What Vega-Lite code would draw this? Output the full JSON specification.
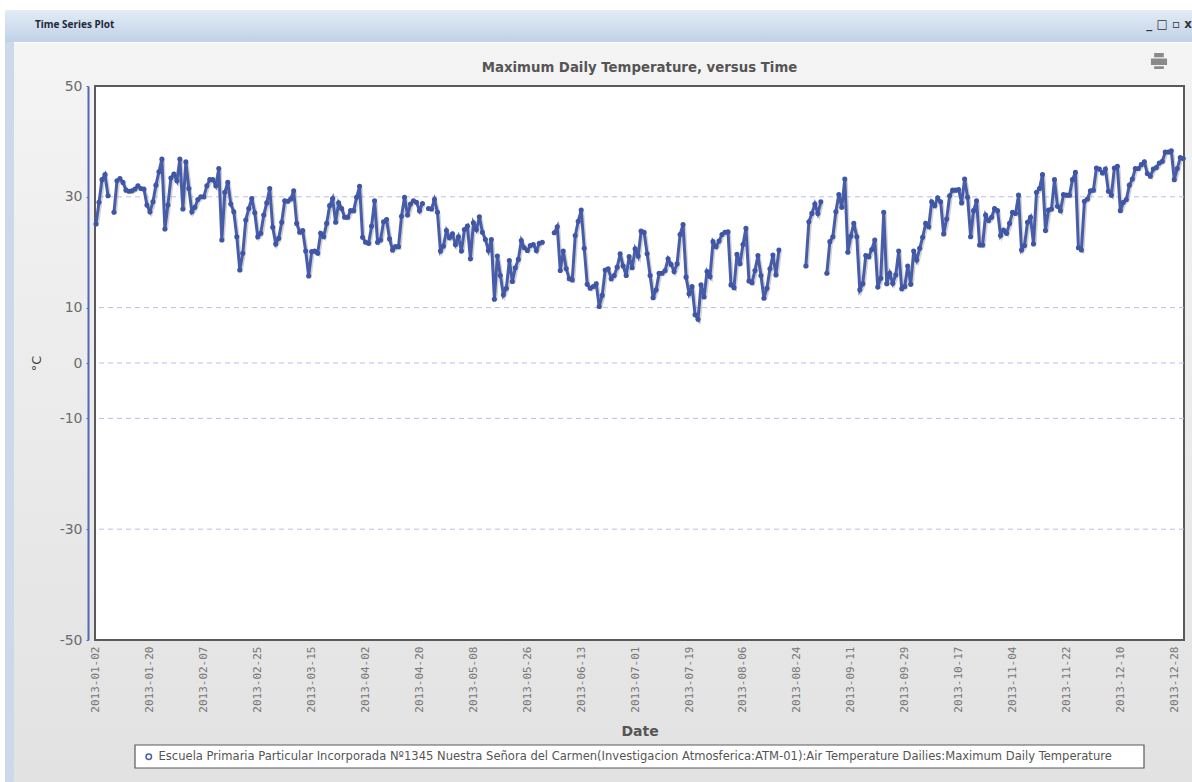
{"$schema":"https://vega.github.io/schema/vega-lite/v6.json","width":1089,"height":554,"autosize":{"type":"none"},"padding":{"left":95,"top":86,"right":8,"bottom":142},"background":"#ffffff","view":{"stroke":null,"fill":null},
"title":{"text":"Maximum Daily Temperature, versus Time","anchor":"middle","frame":"group","font":"DejaVu Sans","fontSize":13.3,"fontWeight":"bold","color":"#555555","offset":13,"dy":77,"zindex":1},
"datasets":{"deco":[{"label":"Time Series Plot"}],"grid":[{"level":30},{"level":10},{"level":0},{"level":-10},{"level":-30}],
"temps":[
{"date":"2013-01-02","tmax":25.1},{"date":"2013-01-03","tmax":29.0},{"date":"2013-01-04","tmax":33.1},{"date":"2013-01-05","tmax":34.0},{"date":"2013-01-06","tmax":30.2},{"date":"2013-01-07","tmax":null},{"date":"2013-01-08","tmax":27.2},{"date":"2013-01-09","tmax":32.9},{"date":"2013-01-10","tmax":33.3},{"date":"2013-01-11","tmax":32.6},{"date":"2013-01-12","tmax":31.2},{"date":"2013-01-13","tmax":31.0},{"date":"2013-01-14","tmax":31.1},{"date":"2013-01-15","tmax":31.4},{"date":"2013-01-16","tmax":32.0},{"date":"2013-01-17","tmax":31.5},{"date":"2013-01-18","tmax":31.4},{"date":"2013-01-19","tmax":28.5},{"date":"2013-01-20","tmax":27.3},{"date":"2013-01-21","tmax":29.1},{"date":"2013-01-22","tmax":32.1},{"date":"2013-01-23","tmax":34.5},{"date":"2013-01-24","tmax":36.8},{"date":"2013-01-25","tmax":24.2},{"date":"2013-01-26","tmax":28.5},{"date":"2013-01-27","tmax":33.4},{"date":"2013-01-28","tmax":34.1},{"date":"2013-01-29","tmax":32.9},{"date":"2013-01-30","tmax":36.8},{"date":"2013-01-31","tmax":27.8},
{"date":"2013-02-01","tmax":36.3},{"date":"2013-02-02","tmax":31.5},{"date":"2013-02-03","tmax":27.3},{"date":"2013-02-04","tmax":28.1},{"date":"2013-02-05","tmax":29.5},{"date":"2013-02-06","tmax":30.0},{"date":"2013-02-07","tmax":30.0},{"date":"2013-02-08","tmax":32.0},{"date":"2013-02-09","tmax":33.1},{"date":"2013-02-10","tmax":33.1},{"date":"2013-02-11","tmax":32.0},{"date":"2013-02-12","tmax":35.1},{"date":"2013-02-13","tmax":22.2},{"date":"2013-02-14","tmax":30.8},{"date":"2013-02-15","tmax":32.6},{"date":"2013-02-16","tmax":28.7},{"date":"2013-02-17","tmax":27.3},{"date":"2013-02-18","tmax":22.8},{"date":"2013-02-19","tmax":16.8},{"date":"2013-02-20","tmax":19.8},{"date":"2013-02-21","tmax":25.8},{"date":"2013-02-22","tmax":27.9},{"date":"2013-02-23","tmax":29.7},{"date":"2013-02-24","tmax":27.1},{"date":"2013-02-25","tmax":22.8},{"date":"2013-02-26","tmax":23.4},{"date":"2013-02-27","tmax":26.7},{"date":"2013-02-28","tmax":28.9},
{"date":"2013-03-01","tmax":31.5},{"date":"2013-03-02","tmax":24.5},{"date":"2013-03-03","tmax":21.5},{"date":"2013-03-04","tmax":22.5},{"date":"2013-03-05","tmax":25.4},{"date":"2013-03-06","tmax":29.3},{"date":"2013-03-07","tmax":29.2},{"date":"2013-03-08","tmax":29.6},{"date":"2013-03-09","tmax":31.1},{"date":"2013-03-10","tmax":25.2},{"date":"2013-03-11","tmax":23.6},{"date":"2013-03-12","tmax":23.9},{"date":"2013-03-13","tmax":20.2},{"date":"2013-03-14","tmax":15.7},{"date":"2013-03-15","tmax":20.1},{"date":"2013-03-16","tmax":20.2},{"date":"2013-03-17","tmax":19.8},{"date":"2013-03-18","tmax":23.4},{"date":"2013-03-19","tmax":22.8},{"date":"2013-03-20","tmax":25.2},{"date":"2013-03-21","tmax":28.4},{"date":"2013-03-22","tmax":29.7},{"date":"2013-03-23","tmax":25.4},{"date":"2013-03-24","tmax":28.9},{"date":"2013-03-25","tmax":27.9},{"date":"2013-03-26","tmax":26.3},{"date":"2013-03-27","tmax":26.3},{"date":"2013-03-28","tmax":27.5},{"date":"2013-03-29","tmax":27.5},{"date":"2013-03-30","tmax":29.9},{"date":"2013-03-31","tmax":31.9},
{"date":"2013-04-01","tmax":22.7},{"date":"2013-04-02","tmax":21.8},{"date":"2013-04-03","tmax":21.6},{"date":"2013-04-04","tmax":24.7},{"date":"2013-04-05","tmax":29.3},{"date":"2013-04-06","tmax":21.8},{"date":"2013-04-07","tmax":22.2},{"date":"2013-04-08","tmax":25.5},{"date":"2013-04-09","tmax":25.9},{"date":"2013-04-10","tmax":22.4},{"date":"2013-04-11","tmax":20.4},{"date":"2013-04-12","tmax":21.0},{"date":"2013-04-13","tmax":21.0},{"date":"2013-04-14","tmax":26.5},{"date":"2013-04-15","tmax":29.9},{"date":"2013-04-16","tmax":26.7},{"date":"2013-04-17","tmax":28.7},{"date":"2013-04-18","tmax":29.3},{"date":"2013-04-19","tmax":29.0},{"date":"2013-04-20","tmax":27.5},{"date":"2013-04-21","tmax":28.8},{"date":"2013-04-22","tmax":null},{"date":"2013-04-23","tmax":27.9},{"date":"2013-04-24","tmax":27.8},{"date":"2013-04-25","tmax":29.5},{"date":"2013-04-26","tmax":27.2},{"date":"2013-04-27","tmax":20.2},{"date":"2013-04-28","tmax":21.1},{"date":"2013-04-29","tmax":23.9},{"date":"2013-04-30","tmax":22.6},
{"date":"2013-05-01","tmax":23.3},{"date":"2013-05-02","tmax":21.4},{"date":"2013-05-03","tmax":22.8},{"date":"2013-05-04","tmax":20.2},{"date":"2013-05-05","tmax":24.1},{"date":"2013-05-06","tmax":24.7},{"date":"2013-05-07","tmax":18.8},{"date":"2013-05-08","tmax":25.3},{"date":"2013-05-09","tmax":24.1},{"date":"2013-05-10","tmax":26.4},{"date":"2013-05-11","tmax":23.6},{"date":"2013-05-12","tmax":22.3},{"date":"2013-05-13","tmax":20.3},{"date":"2013-05-14","tmax":22.3},{"date":"2013-05-15","tmax":11.5},{"date":"2013-05-16","tmax":19.3},{"date":"2013-05-17","tmax":15.8},{"date":"2013-05-18","tmax":12.3},{"date":"2013-05-19","tmax":13.5},{"date":"2013-05-20","tmax":18.5},{"date":"2013-05-21","tmax":14.7},{"date":"2013-05-22","tmax":17.2},{"date":"2013-05-23","tmax":18.7},{"date":"2013-05-24","tmax":22.1},{"date":"2013-05-25","tmax":20.8},{"date":"2013-05-26","tmax":20.3},{"date":"2013-05-27","tmax":21.2},{"date":"2013-05-28","tmax":21.4},{"date":"2013-05-29","tmax":20.3},{"date":"2013-05-30","tmax":21.6},{"date":"2013-05-31","tmax":21.8},
{"date":"2013-06-01","tmax":null},{"date":"2013-06-04","tmax":23.5},{"date":"2013-06-05","tmax":24.6},{"date":"2013-06-06","tmax":16.7},{"date":"2013-06-07","tmax":20.2},{"date":"2013-06-08","tmax":17.0},{"date":"2013-06-09","tmax":15.2},{"date":"2013-06-10","tmax":15.0},{"date":"2013-06-11","tmax":23.0},{"date":"2013-06-12","tmax":25.6},{"date":"2013-06-13","tmax":27.6},{"date":"2013-06-14","tmax":20.7},{"date":"2013-06-15","tmax":14.2},{"date":"2013-06-16","tmax":13.5},{"date":"2013-06-17","tmax":13.8},{"date":"2013-06-18","tmax":14.3},{"date":"2013-06-19","tmax":10.2},{"date":"2013-06-20","tmax":12.2},{"date":"2013-06-21","tmax":16.8},{"date":"2013-06-22","tmax":17.0},{"date":"2013-06-23","tmax":15.2},{"date":"2013-06-24","tmax":15.8},{"date":"2013-06-25","tmax":17.3},{"date":"2013-06-26","tmax":19.7},{"date":"2013-06-27","tmax":17.5},{"date":"2013-06-28","tmax":15.8},{"date":"2013-06-29","tmax":19.2},{"date":"2013-06-30","tmax":17.2},
{"date":"2013-07-01","tmax":20.6},{"date":"2013-07-02","tmax":19.3},{"date":"2013-07-03","tmax":23.8},{"date":"2013-07-04","tmax":23.6},{"date":"2013-07-05","tmax":19.7},{"date":"2013-07-06","tmax":15.8},{"date":"2013-07-07","tmax":11.8},{"date":"2013-07-08","tmax":13.2},{"date":"2013-07-09","tmax":16.2},{"date":"2013-07-10","tmax":16.2},{"date":"2013-07-11","tmax":16.7},{"date":"2013-07-12","tmax":18.8},{"date":"2013-07-13","tmax":17.8},{"date":"2013-07-14","tmax":16.5},{"date":"2013-07-15","tmax":17.9},{"date":"2013-07-16","tmax":23.2},{"date":"2013-07-17","tmax":25.0},{"date":"2013-07-18","tmax":15.5},{"date":"2013-07-19","tmax":12.5},{"date":"2013-07-20","tmax":13.8},{"date":"2013-07-21","tmax":8.7},{"date":"2013-07-22","tmax":7.9},{"date":"2013-07-23","tmax":14.1},{"date":"2013-07-24","tmax":11.9},{"date":"2013-07-25","tmax":16.5},{"date":"2013-07-26","tmax":15.6},{"date":"2013-07-27","tmax":21.9},{"date":"2013-07-28","tmax":21.0},{"date":"2013-07-29","tmax":22.0},{"date":"2013-07-30","tmax":23.2},{"date":"2013-07-31","tmax":23.6},
{"date":"2013-08-01","tmax":23.7},{"date":"2013-08-02","tmax":14.1},{"date":"2013-08-03","tmax":13.6},{"date":"2013-08-04","tmax":19.6},{"date":"2013-08-05","tmax":17.9},{"date":"2013-08-06","tmax":21.4},{"date":"2013-08-07","tmax":24.3},{"date":"2013-08-08","tmax":14.8},{"date":"2013-08-09","tmax":14.5},{"date":"2013-08-10","tmax":16.7},{"date":"2013-08-11","tmax":19.4},{"date":"2013-08-12","tmax":15.8},{"date":"2013-08-13","tmax":11.7},{"date":"2013-08-14","tmax":13.5},{"date":"2013-08-15","tmax":17.0},{"date":"2013-08-16","tmax":19.5},{"date":"2013-08-17","tmax":15.9},{"date":"2013-08-18","tmax":20.4},{"date":"2013-08-19","tmax":null},{"date":"2013-08-27","tmax":17.5},{"date":"2013-08-28","tmax":25.5},{"date":"2013-08-29","tmax":27.0},{"date":"2013-08-30","tmax":28.7},{"date":"2013-08-31","tmax":27.0},
{"date":"2013-09-01","tmax":29.1},{"date":"2013-09-02","tmax":null},{"date":"2013-09-03","tmax":16.2},{"date":"2013-09-04","tmax":21.9},{"date":"2013-09-05","tmax":22.8},{"date":"2013-09-06","tmax":27.3},{"date":"2013-09-07","tmax":30.4},{"date":"2013-09-08","tmax":28.1},{"date":"2013-09-09","tmax":33.2},{"date":"2013-09-10","tmax":20.0},{"date":"2013-09-11","tmax":22.9},{"date":"2013-09-12","tmax":25.2},{"date":"2013-09-13","tmax":22.8},{"date":"2013-09-14","tmax":13.2},{"date":"2013-09-15","tmax":14.3},{"date":"2013-09-16","tmax":19.4},{"date":"2013-09-17","tmax":19.2},{"date":"2013-09-18","tmax":20.5},{"date":"2013-09-19","tmax":22.2},{"date":"2013-09-20","tmax":13.7},{"date":"2013-09-21","tmax":15.3},{"date":"2013-09-22","tmax":27.2},{"date":"2013-09-23","tmax":14.3},{"date":"2013-09-24","tmax":16.2},{"date":"2013-09-25","tmax":14.4},{"date":"2013-09-26","tmax":15.9},{"date":"2013-09-27","tmax":20.2},{"date":"2013-09-28","tmax":13.4},{"date":"2013-09-29","tmax":13.8},{"date":"2013-09-30","tmax":17.5},
{"date":"2013-10-01","tmax":14.2},{"date":"2013-10-02","tmax":20.2},{"date":"2013-10-03","tmax":18.6},{"date":"2013-10-04","tmax":20.7},{"date":"2013-10-05","tmax":22.7},{"date":"2013-10-06","tmax":25.2},{"date":"2013-10-07","tmax":24.6},{"date":"2013-10-08","tmax":29.1},{"date":"2013-10-09","tmax":28.4},{"date":"2013-10-10","tmax":29.8},{"date":"2013-10-11","tmax":29.1},{"date":"2013-10-12","tmax":23.3},{"date":"2013-10-13","tmax":26.0},{"date":"2013-10-14","tmax":30.2},{"date":"2013-10-15","tmax":31.2},{"date":"2013-10-16","tmax":31.2},{"date":"2013-10-17","tmax":31.3},{"date":"2013-10-18","tmax":28.9},{"date":"2013-10-19","tmax":33.2},{"date":"2013-10-20","tmax":29.9},{"date":"2013-10-21","tmax":22.8},{"date":"2013-10-22","tmax":27.5},{"date":"2013-10-23","tmax":29.3},{"date":"2013-10-24","tmax":21.3},{"date":"2013-10-25","tmax":21.3},{"date":"2013-10-26","tmax":26.7},{"date":"2013-10-27","tmax":25.7},{"date":"2013-10-28","tmax":26.3},{"date":"2013-10-29","tmax":27.9},{"date":"2013-10-30","tmax":27.5},{"date":"2013-10-31","tmax":23.0},
{"date":"2013-11-01","tmax":24.0},{"date":"2013-11-02","tmax":23.4},{"date":"2013-11-03","tmax":25.2},{"date":"2013-11-04","tmax":27.2},{"date":"2013-11-05","tmax":27.0},{"date":"2013-11-06","tmax":30.3},{"date":"2013-11-07","tmax":20.4},{"date":"2013-11-08","tmax":21.2},{"date":"2013-11-09","tmax":25.4},{"date":"2013-11-10","tmax":26.3},{"date":"2013-11-11","tmax":21.5},{"date":"2013-11-12","tmax":30.8},{"date":"2013-11-13","tmax":31.5},{"date":"2013-11-14","tmax":34.0},{"date":"2013-11-15","tmax":23.9},{"date":"2013-11-16","tmax":27.6},{"date":"2013-11-17","tmax":27.8},{"date":"2013-11-18","tmax":33.1},{"date":"2013-11-19","tmax":28.3},{"date":"2013-11-20","tmax":27.5},{"date":"2013-11-21","tmax":30.4},{"date":"2013-11-22","tmax":30.3},{"date":"2013-11-23","tmax":30.3},{"date":"2013-11-24","tmax":33.1},{"date":"2013-11-25","tmax":34.4},{"date":"2013-11-26","tmax":20.8},{"date":"2013-11-27","tmax":20.4},{"date":"2013-11-28","tmax":29.2},{"date":"2013-11-29","tmax":29.6},{"date":"2013-11-30","tmax":31.1},
{"date":"2013-12-01","tmax":31.2},{"date":"2013-12-02","tmax":35.2},{"date":"2013-12-03","tmax":35.0},{"date":"2013-12-04","tmax":34.3},{"date":"2013-12-05","tmax":35.0},{"date":"2013-12-06","tmax":31.0},{"date":"2013-12-07","tmax":30.3},{"date":"2013-12-08","tmax":35.2},{"date":"2013-12-09","tmax":35.5},{"date":"2013-12-10","tmax":27.5},{"date":"2013-12-11","tmax":29.0},{"date":"2013-12-12","tmax":29.5},{"date":"2013-12-13","tmax":32.1},{"date":"2013-12-14","tmax":33.2},{"date":"2013-12-15","tmax":35.1},{"date":"2013-12-16","tmax":35.1},{"date":"2013-12-17","tmax":35.8},{"date":"2013-12-18","tmax":36.3},{"date":"2013-12-19","tmax":34.2},{"date":"2013-12-20","tmax":33.7},{"date":"2013-12-21","tmax":35.0},{"date":"2013-12-22","tmax":35.3},{"date":"2013-12-23","tmax":36.1},{"date":"2013-12-24","tmax":36.4},{"date":"2013-12-25","tmax":38.1},{"date":"2013-12-26","tmax":38.1},{"date":"2013-12-27","tmax":38.3},{"date":"2013-12-28","tmax":33.1},{"date":"2013-12-29","tmax":35.1},{"date":"2013-12-30","tmax":37.1},{"date":"2013-12-31","tmax":36.9}
]},
"layer":[
{"data":{"name":"deco"},"mark":{"type":"rect","fill":{"gradient":"linear","x1":0,"y1":0,"x2":0,"y2":1,"stops":[{"offset":0,"color":"#f4f4f4"},{"offset":1,"color":"#e2e2e2"}]}},"encoding":{"x":{"value":-81},"x2":{"value":1097},"y":{"value":-43},"y2":{"value":696}}},
{"data":{"name":"deco"},"mark":{"type":"rect","fill":{"gradient":"linear","x1":0,"y1":0,"x2":0,"y2":1,"stops":[{"offset":0,"color":"#e3ecf7"},{"offset":1,"color":"#c0d1e6"}]}},"encoding":{"x":{"value":-90},"x2":{"value":1097},"y":{"value":-76},"y2":{"value":-44}}},
{"data":{"name":"deco"},"mark":{"type":"rect","fill":"#cbd9ea"},"encoding":{"x":{"value":-90},"x2":{"value":-81},"y":{"value":-44},"y2":{"value":696}}},
{"data":{"name":"deco"},"mark":{"type":"rect","fill":"#ffffff","stroke":"#5a5a5a","strokeWidth":2},"encoding":{"x":{"value":0},"x2":{"value":1089},"y":{"value":0},"y2":{"value":554}}},
{"data":{"name":"deco"},"mark":{"type":"rect","fill":"#ffffff","stroke":"#5a5a5a","strokeWidth":1.2},"encoding":{"x":{"value":40},"x2":{"value":1049},"y":{"value":659},"y2":{"value":682}}},
{"data":{"name":"deco"},"mark":{"type":"text","font":"Noto Sans","fontSize":10,"fontWeight":"bold","color":"#1f2a3a","align":"left"},"encoding":{"text":{"field":"label"},"x":{"value":-60},"y":{"value":-61}}},
{"data":{"name":"deco"},"mark":{"type":"text","font":"DejaVu Sans","fontSize":12,"fontWeight":"bold","color":"#333333","align":"right"},"encoding":{"text":{"value":"_ □ ▫ x"},"x":{"value":1097},"y":{"value":-62}}},
{"data":{"name":"deco"},"mark":{"type":"point","filled":true,"shape":"M-1,-0.3H1V0.5H-1ZM-0.6,-0.45V-1H0.6V-0.45ZM-0.6,0.65V1H0.6V0.65Z","color":"#8a8a8a","opacity":1,"size":260},"encoding":{"x":{"value":1064},"y":{"value":-25}}},
{"data":{"name":"grid"},"mark":{"type":"rule","color":"#b8bfee","strokeWidth":1,"strokeDash":[5,4]},"encoding":{"y":{"field":"level","type":"quantitative","scale":{"domain":[-50,50],"nice":false}}}},
{"data":{"name":"temps"},"mark":{"type":"line","color":"#9a9a9a","opacity":0.45,"strokeWidth":3,"xOffset":1.5,"yOffset":1.5},"encoding":{"x":{"field":"date","type":"temporal","scale":{"type":"utc","domain":["2013-01-01T16:00:00Z","2013-12-31T06:00:00Z"]}},"y":{"field":"tmax","type":"quantitative"}}},
{"data":{"name":"temps"},"mark":{"type":"line","strokeWidth":3,"opacity":0.95},"encoding":{"x":{"field":"date","type":"temporal","scale":{"type":"utc","domain":["2013-01-01T16:00:00Z","2013-12-31T06:00:00Z"]},"title":"Date","axis":{"zindex":1,"values":["2013-01-02","2013-01-20","2013-02-07","2013-02-25","2013-03-15","2013-04-02","2013-04-20","2013-05-08","2013-05-26","2013-06-13","2013-07-01","2013-07-19","2013-08-06","2013-08-24","2013-09-11","2013-09-29","2013-10-17","2013-11-04","2013-11-22","2013-12-10","2013-12-28"],"format":"%Y-%m-%d","labelAngle":270,"labelFont":"DejaVu Sans Mono","labelFontSize":11,"labelColor":"#777777","labelPadding":6,"labelOverlap":false,"labelBound":false,"labelFlush":false,"ticks":false,"domain":false,"grid":false,"titleFont":"DejaVu Sans","titleFontSize":14,"titleFontWeight":"bold","titleColor":"#555555","titlePadding":12}},"y":{"field":"tmax","type":"quantitative","scale":{"domain":[-50,50],"nice":false},"title":"°C","axis":{"zindex":1,"values":[50,30,10,0,-10,-30,-50],"labelExpr":"'' + datum.value","offset":7,"domainColor":"#5468b4","domainWidth":2,"tickColor":"#5468b4","tickSize":2,"grid":false,"labelFont":"DejaVu Sans","labelFontSize":14,"labelColor":"#6b6b6b","labelPadding":4,"labelBound":false,"labelFlush":false,"titleFont":"DejaVu Sans","titleFontSize":13,"titleFontWeight":"normal","titleColor":"#444444","titlePadding":16}},"color":{"datum":"Escuela Primaria Particular Incorporada Nº1345 Nuestra Señora del Carmen(Investigacion Atmosferica:ATM-01):Air Temperature Dailies:Maximum Daily Temperature","scale":{"range":["#3f55a5"]},"legend":{"title":null,"orient":"none","legendX":42,"legendY":659,"direction":"horizontal","padding":6,"labelFont":"DejaVu Sans","labelFontSize":11.55,"labelColor":"#555555","labelLimit":1100,"symbolType":"circle","symbolSize":30,"symbolStrokeWidth":1.5,"symbolFillColor":"#ffffff","symbolStrokeColor":"#3f55a5","zindex":1}}}},
{"data":{"name":"temps"},"mark":{"type":"point","filled":true,"color":"#3f55a5","size":26,"opacity":1},"encoding":{"x":{"field":"date","type":"temporal"},"y":{"field":"tmax","type":"quantitative"}}}
],"config":{"font":"DejaVu Sans"}}
